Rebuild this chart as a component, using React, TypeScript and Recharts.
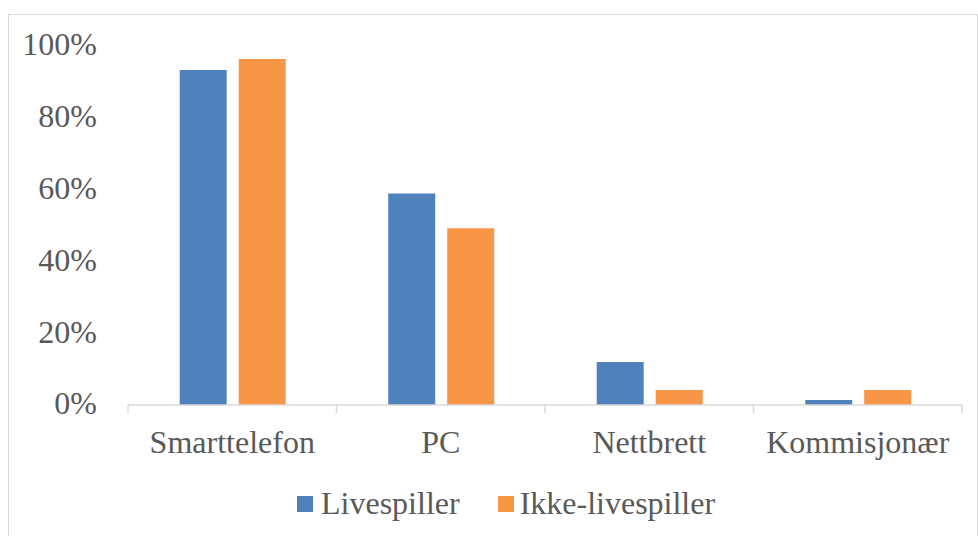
import React from "react";
import { BarChart, Bar, XAxis, YAxis, Legend } from "recharts";

const categories = ["Smarttelefon", "PC", "Nettbrett", "Kommisjonær"];
const livespiller = [0.933, 0.589, 0.12, 0.014];
const ikkeLivespiller = [0.964, 0.492, 0.042, 0.042];
const yTicks = [0, 0.2, 0.4, 0.6, 0.8, 1];

const data = categories.map((name, i) => ({
  name,
  live: livespiller[i],
  ikke: ikkeLivespiller[i],
}));

const FONT = '"Liberation Serif", "Times New Roman", serif';
const TEXT = "#595959";
const AXIS = "#d9d9d9";
const BLUE = "#4f81bd";
const ORANGE = "#f79646";
const FS = 32;

// category label plus Excel-style tick marks on the band edges
const CategoryTick = (props: any) => {
  const { x, y, payload, index, visibleTicksCount } = props;
  const half = payload.offset ?? 0;
  const left = x - half;
  const right = x + half;
  return (
    <g>
      <line x1={left} x2={left} y1={y} y2={y + 8} stroke={AXIS} strokeWidth={1.5} />
      {index === visibleTicksCount - 1 && (
        <line x1={right} x2={right} y1={y} y2={y + 8} stroke={AXIS} strokeWidth={1.5} />
      )}
      <text x={x} y={y + 48} textAnchor="middle" fill={TEXT} fontSize={FS} fontFamily={FONT}>
        {payload.value}
      </text>
    </g>
  );
};

const LegendContent = () => (
  <div
    style={{
      display: "flex",
      alignItems: "center",
      paddingLeft: 288,
      paddingTop: 20,
      fontFamily: FONT,
      fontSize: FS,
      color: TEXT,
    }}
  >
    <span style={{ width: 16, height: 16, background: BLUE, marginRight: 8 }} />
    <span style={{ marginRight: 38 }}>Livespiller</span>
    <span style={{ width: 16, height: 16, background: ORANGE, marginRight: 6 }} />
    <span>Ikke-livespiller</span>
  </div>
);

export default function App() {
  return (
    <div
      style={{
        position: "absolute",
        top: 14,
        left: 8,
        width: 968,
        height: 530,
        border: `1px solid ${AXIS}`,
        background: "#fff",
      }}
    >
      <BarChart
        width={968}
        height={530}
        data={data}
        margin={{ top: 31, right: 15, bottom: 30, left: 0 }}
        barCategoryGap="24.8%"
        barGap={12}
      >
        <YAxis
          width={119}
          domain={[0, 1]}
          ticks={yTicks}
          axisLine={false}
          tickLine={false}
          tickSize={0}
          tickMargin={31}
          dy={-2}
          tickFormatter={(v: number) => `${Math.round(v * 100)}%`}
          tick={{ fill: TEXT, fontSize: FS, fontFamily: FONT }}
        />
        <XAxis
          dataKey="name"
          height={60}
          tickSize={0}
          tickMargin={0}
          axisLine={{ stroke: AXIS, strokeWidth: 1.5 }}
          tickLine={false}
          tick={<CategoryTick />}
          interval={0}
        />
        <Legend verticalAlign="bottom" height={50} wrapperStyle={{ left: 0, width: 968 }} content={<LegendContent />} />
        <Bar dataKey="live" name="Livespiller" fill={BLUE} isAnimationActive={false} />
        <Bar dataKey="ikke" name="Ikke-livespiller" fill={ORANGE} isAnimationActive={false} />
      </BarChart>
    </div>
  );
}
